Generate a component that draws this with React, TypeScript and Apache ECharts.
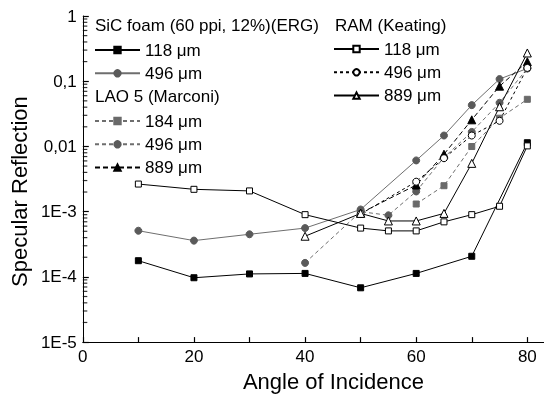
import React, { useEffect, useRef } from "react";
import * as echarts from "echarts";

// ---- Data ----
const sic118X = [10, 20, 30, 40, 50, 60, 70, 80];
const sic118Y = [1.77e-4, 9.7e-5, 1.11e-4, 1.13e-4, 6.8e-5, 1.13e-4, 2.07e-4, 0.0114];

const sic496X = [10, 20, 30, 40, 50, 60, 65, 70, 75, 80];
const sic496Y = [5.1e-4, 3.6e-4, 4.5e-4, 5.6e-4, 1.08e-3, 6.1e-3, 0.0147, 0.043, 0.108, 0.157];

const lao184X = [60, 65, 70, 75, 80];
const lao184Y = [1.31e-3, 2.5e-3, 9.97e-3, 0.0271, 0.0528];

const lao496X = [40, 50, 55, 60, 65, 70, 75, 80];
const lao496Y = [1.64e-4, 1.0e-3, 8.8e-4, 2.04e-3, 6.8e-3, 0.0167, 0.0467, 0.157];

const lao889X = [50, 60, 65, 70, 75, 80];
const lao889Y = [9.5e-4, 2.56e-3, 7.6e-3, 0.0256, 0.084, 0.199];

const ram118X = [10, 20, 30, 40, 50, 55, 60, 65, 70, 75, 80];
const ram118Y = [2.65e-3, 2.2e-3, 2.08e-3, 9.0e-4, 5.6e-4, 5.07e-4, 5.07e-4, 6.98e-4, 9.0e-4, 1.21e-3, 0.0102];

const ram496X = [50, 60, 65, 70, 75, 80];
const ram496Y = [9.2e-4, 2.88e-3, 6.6e-3, 0.0147, 0.0247, 0.16];

const ram889X = [40, 50, 55, 60, 65, 70, 75, 80];
const ram889Y = [4.2e-4, 9.4e-4, 7.2e-4, 7.2e-4, 9.4e-4, 5.5e-3, 0.0406, 0.271];

const xTickValues = [0, 10, 20, 30, 40, 50, 60, 70, 80];
const xLabelValues = [0, 20, 40, 60, 80];
const yTickLabels = ["1E-5", "1E-4", "1E-3", "0,01", "0,1", "1"];
const yMinorMultipliers = [2, 3, 4, 5, 6, 7, 8, 9];
const yMinorDecades = [-5, -4, -3, -2, -1];

const groupHeaders = ["SiC foam (60 ppi, 12%)(ERG)", "LAO 5 (Marconi)", "RAM (Keating)"];
const legendLabels: Record<string, string> = {
  sic118: "118 μm",
  sic496: "496 μm",
  lao184: "184 μm",
  lao496: "496 μm",
  lao889: "889 μm",
  ram118: "118 μm",
  ram496: "496 μm",
  ram889: "889 μm",
};

const FONT = "Liberation Sans, Arial, sans-serif";
const GRAY = "#5a5a5a";
const GRAY_LINE = "#6e6e6e";
const TICK = "#000";

function pairs(xs: number[], ys: number[]) {
  return xs.map((x, i) => [x, ys[i]]);
}

export default function App() {
  const ref = useRef<HTMLDivElement>(null);

  useEffect(() => {
    if (!ref.current) return;
    const chart = echarts.init(ref.current, undefined, { renderer: "svg" });

    const minorTicks: number[][] = [];
    yMinorDecades.forEach((d) =>
      yMinorMultipliers.forEach((m) => minorTicks.push([0, m * Math.pow(10, d)]))
    );

    const lineSeries = (
      name: string,
      data: number[][],
      symbol: string,
      size: number,
      fill: string,
      border: string,
      lineColor: string,
      lineType: any
    ) => ({
      name,
      type: "line",
      data,
      symbol,
      symbolSize: size,
      showAllSymbol: true,
      itemStyle: { color: fill, borderColor: border, borderWidth: 1 },
      lineStyle: { color: lineColor, width: 1, type: lineType },
      z: 3,
    });

    const legendBase = {
      orient: "vertical",
      padding: 0,
      itemWidth: 45,
      itemHeight: 8,
      itemGap: 6.3,
      textStyle: { fontSize: 17, color: "#000", fontFamily: FONT },
      formatter: (n: string) => legendLabels[n] || n,
      selectedMode: false,
    };

    chart.setOption({
      animation: false,
      textStyle: { fontFamily: FONT },
      grid: { left: 76, right: 0, top: 16, bottom: 48, containLabel: false },
      xAxis: {
        type: "value",
        min: 0,
        max: 83,
        interval: 10,
        name: "Angle of Incidence",
        nameLocation: "middle",
        nameGap: 23,
        nameTextStyle: { fontSize: 22, color: "#000", fontFamily: FONT, padding: [0, 0, 0, 40] },
        axisLine: { show: true, lineStyle: { color: "#000", width: 1 } },
        axisTick: { show: true, inside: true, length: 5, customValues: xTickValues, lineStyle: { color: TICK, width: 1.2 } },
        axisLabel: { fontSize: 17, color: "#000", fontFamily: FONT, margin: 6, customValues: xLabelValues },
        splitLine: { show: false },
      },
      yAxis: {
        type: "log",
        logBase: 10,
        min: 1e-5,
        max: 1,
        name: "Specular Reflection",
        nameLocation: "middle",
        nameGap: 43,
        nameTextStyle: { fontSize: 22, color: "#000", fontFamily: FONT, padding: [0, 25, 0, 0] },
        axisLine: { show: true, lineStyle: { color: "#000", width: 1 } },
        axisTick: { show: true, inside: true, length: 6, lineStyle: { color: TICK, width: 1.2 } },
        axisLabel: {
          fontSize: 17,
          color: "#000",
          fontFamily: FONT,
          margin: 6,
          formatter: (v: number) => yTickLabels[Math.round(Math.log10(v)) + 5] ?? "",
        },
        splitLine: { show: false },
      },
      legend: [
        { ...legendBase, left: 94, top: 41.5, data: ["sic118", "sic496"] },
        { ...legendBase, left: 94, top: 112.5, data: ["lao184", "lao496", "lao889"] },
        { ...legendBase, left: 333, top: 40.5, data: ["ram118", "ram496", "ram889"] },
      ],
      graphic: [
        { type: "text", left: 95, top: 17, style: { text: groupHeaders[0], fontSize: 17, fill: "#000", fontFamily: FONT } },
        { type: "text", left: 95, top: 88, style: { text: groupHeaders[1], fontSize: 17, fill: "#000", fontFamily: FONT } },
        { type: "text", left: 335, top: 17, style: { text: groupHeaders[2], fontSize: 17, fill: "#000", fontFamily: FONT } },
      ],
      series: [
        {
          type: "scatter",
          name: "minorTicks",
          data: minorTicks,
          symbol: "rect",
          symbolSize: [4.5, 1.2],
          symbolOffset: [2.25, 0],
          itemStyle: { color: TICK },
          silent: true,
          clip: false,
          z: 5,
        },
        lineSeries("sic118", pairs(sic118X, sic118Y), "rect", 6, "#000", "#000", "#000", "solid"),
        lineSeries("sic496", pairs(sic496X, sic496Y), "circle", 7, GRAY, GRAY, GRAY_LINE, "solid"),
        lineSeries("lao184", pairs(lao184X, lao184Y), "rect", 6, "#6a6a6a", "#6a6a6a", GRAY_LINE, [4, 3]),
        lineSeries("lao496", pairs(lao496X, lao496Y), "circle", 7, GRAY, GRAY, GRAY_LINE, [4, 3]),
        lineSeries("lao889", pairs(lao889X, lao889Y), "triangle", 8, "#000", "#000", "#000", [5, 3]),
        lineSeries("ram118", pairs(ram118X, ram118Y), "rect", 6, "#fff", "#000", "#000", "solid"),
        lineSeries("ram496", pairs(ram496X, ram496Y), "circle", 7, "#fff", "#000", "#000", [3, 3]),
        lineSeries("ram889", pairs(ram889X, ram889Y), "triangle", 8, "#fff", "#000", "#000", "solid"),
      ],
    });

    return () => chart.dispose();
  }, []);

  return (
    <div
      ref={ref}
      style={{ position: "fixed", left: 0, top: 0, width: 544, height: 397 }}
    />
  );
}
